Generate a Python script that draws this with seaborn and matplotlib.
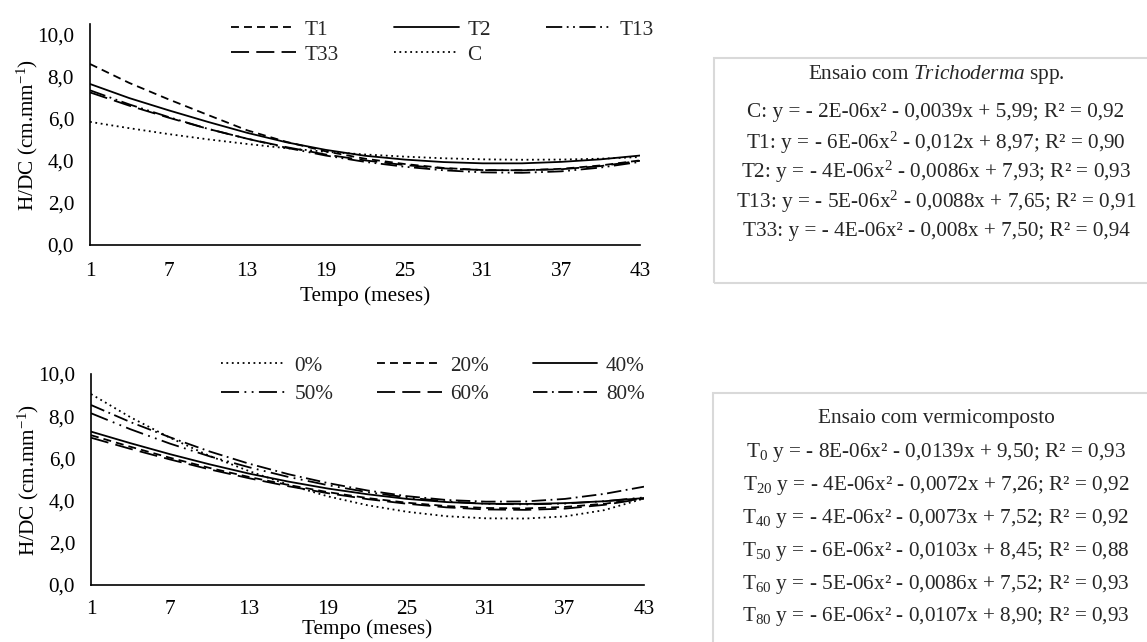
import numpy as np
import pandas as pd
import seaborn as sns
import matplotlib
matplotlib.use("Agg")
import matplotlib.pyplot as plt
from matplotlib.patches import Rectangle

# ---------------- data ----------------
months = [1, 4, 7, 10, 13, 16, 19, 22, 25, 28, 31, 34, 37, 40, 43]
xticks = [1, 7, 13, 19, 25, 31, 37, 43]
ytick_vals = [0, 2, 4, 6, 8, 10]
ytick_labels = ["0,0", "2,0", "4,0", "6,0", "8,0", "10,0"]

# Trichoderma trial
t1 = [8.60, 7.70, 6.92, 6.18, 5.45, 4.90, 4.45, 4.10, 3.85, 3.66, 3.56, 3.55, 3.62, 3.78, 4.02]
t2 = [7.65, 6.98, 6.40, 5.85, 5.33, 4.88, 4.52, 4.24, 4.06, 3.94, 3.88, 3.88, 3.95, 4.07, 4.25]
t13 = [7.35, 6.68, 6.08, 5.52, 5.05, 4.62, 4.25, 3.95, 3.72, 3.55, 3.45, 3.43, 3.50, 3.68, 3.95]
t33 = [7.25, 6.62, 6.05, 5.52, 5.05, 4.65, 4.30, 4.02, 3.80, 3.64, 3.56, 3.55, 3.60, 3.75, 4.00]
c = [5.85, 5.55, 5.27, 5.02, 4.80, 4.60, 4.43, 4.30, 4.20, 4.12, 4.07, 4.05, 4.06, 4.10, 4.18]

# Vermicompost trial
v0 = [9.05, 7.95, 6.98, 6.12, 5.40, 4.75, 4.20, 3.78, 3.47, 3.26, 3.16, 3.15, 3.25, 3.55, 4.10]
v20 = [7.10, 6.55, 6.03, 5.55, 5.12, 4.74, 4.40, 4.12, 3.90, 3.74, 3.65, 3.63, 3.70, 3.85, 4.10]
v40 = [7.27, 6.72, 6.20, 5.72, 5.28, 4.90, 4.57, 4.30, 4.08, 3.93, 3.85, 3.84, 3.88, 3.97, 4.12]
v50 = [8.14, 7.38, 6.70, 6.10, 5.58, 5.12, 4.73, 4.40, 4.15, 3.96, 3.85, 3.82, 3.86, 3.97, 4.15]
v60 = [6.98, 6.45, 5.95, 5.48, 5.06, 4.68, 4.35, 4.07, 3.85, 3.68, 3.58, 3.56, 3.62, 3.80, 4.10]
v80 = [8.53, 7.72, 7.00, 6.33, 5.75, 5.25, 4.83, 4.48, 4.21, 4.03, 3.95, 3.96, 4.08, 4.32, 4.66]

top_names = ["T1", "T2", "T13", "T33", "C"]
top_vals = [t1, t2, t13, t33, c]
bot_names = ["0%", "20%", "40%", "50%", "60%", "80%"]
bot_vals = [v0, v20, v40, v50, v60, v80]

box1_title = "Ensaio com $\\it{Trichoderma}$ spp."
box1_lines = [
    "C: y = - 2E-06x² - 0,0039x + 5,99; R² = 0,92",
    "T1: y = - 6E-06x$^{2}$ - 0,012x + 8,97; R² = 0,90",
    "T2: y = - 4E-06x$^{2}$ - 0,0086x + 7,93; R² = 0,93",
    "T13: y = - 5E-06x$^{2}$ - 0,0088x + 7,65; R² = 0,91",
    "T33: y = - 4E-06x² - 0,008x + 7,50; R² = 0,94",
]
box2_title = "Ensaio com vermicomposto"
box2_lines = [
    "T$_{0}$ y = - 8E-06x² - 0,0139x + 9,50; R² = 0,93",
    "T$_{20}$ y = - 4E-06x² - 0,0072x + 7,26; R² = 0,92",
    "T$_{40}$ y = - 4E-06x² - 0,0073x + 7,52; R² = 0,92",
    "T$_{50}$ y = - 6E-06x² - 0,0103x + 8,45; R² = 0,88",
    "T$_{60}$ y = - 5E-06x² - 0,0086x + 7,52; R² = 0,93",
    "T$_{80}$ y = - 6E-06x² - 0,0107x + 8,90; R² = 0,93",
]

# ---------------- style ----------------
sns.set_theme(style="white")
plt.rcParams["font.family"] = ["Liberation Serif", "DejaVu Serif"]
plt.rcParams["mathtext.fontset"] = "custom"
plt.rcParams["mathtext.rm"] = "Liberation Serif"
plt.rcParams["mathtext.it"] = "Liberation Serif:italic"
plt.rcParams["mathtext.bf"] = "Liberation Serif:bold"

FS = 15.3
LW = 1.3
top_styles = {
    "T1": (0, (4.4, 2.8)),
    "T2": "-",
    "T13": (0, (9, 2.5, 1, 2.5, 1, 2.5)),
    "T33": (0, (10, 4)),
    "C": (0, (1, 2)),
}
bot_styles = {
    "0%": (0, (1, 2)),
    "20%": (0, (4.4, 2.8)),
    "40%": "-",
    "50%": (0, (10, 3, 1, 3, 1, 3)),
    "60%": (0, (10, 4)),
    "80%": (0, (8, 2.5, 1, 2.5)),
}

W, H = 1147, 642
fig = plt.figure(figsize=(W / 100, H / 100), dpi=100)
fig.patch.set_facecolor("white")

ax1 = fig.add_axes([90 / W, 1 - 245 / H, 550 / W, 221 / H])
ax2 = fig.add_axes([91 / W, 1 - 585 / H, 553 / W, 211 / H])


def draw(ax, names, vals, styles, ytop, xpad, xlabelpad):
    for n, v in zip(names, vals):
        df = pd.DataFrame({"m": months, "v": v})
        sns.lineplot(data=df, x="m", y="v", ax=ax, color="black",
                     linewidth=LW, linestyle=styles[n], label=n)
    ax.set_xlim(1, 43)
    ax.set_ylim(0, ytop)
    ax.set_xticks(xticks)
    ax.set_xticklabels([str(t) for t in xticks], fontsize=FS)
    ax.set_yticks(ytick_vals)
    ax.set_yticklabels(ytick_labels, fontsize=FS)
    for s in ["top", "right"]:
        ax.spines[s].set_visible(False)
    for s in ["left", "bottom"]:
        ax.spines[s].set_color("black")
        ax.spines[s].set_linewidth(1.2)
    ax.tick_params(axis="x", direction="inout", length=8, width=1.2,
                   color="black", pad=xpad, labelcolor="black")
    ax.tick_params(axis="y", direction="out", length=5, width=1.2,
                   color="black", pad=6.5, labelcolor="black")
    ax.set_xlabel("Tempo (meses)", fontsize=FS, color="black", labelpad=xlabelpad)
    ax.set_ylabel("H/DC (cm.mm$^{-1}$)", fontsize=FS, color="black", labelpad=-2)
    ax.set_facecolor("white")


draw(ax1, top_names, top_vals, top_styles, 10.5, 8, 4)
draw(ax2, bot_names, bot_vals, bot_styles, 10.0, 7, 0)

# legends
h1, l1 = ax1.get_legend_handles_labels()
d1 = dict(zip(l1, h1))
order1 = ["T1", "T33", "T2", "C", "T13"]
ax1.legend([d1[k] for k in order1], order1, ncol=3, frameon=False,
           loc="upper left", bbox_to_anchor=(231 / W, 1 - 20 / H),
           bbox_transform=fig.transFigure, fontsize=FS, handlelength=3.05,
           handletextpad=0.4, columnspacing=2.6, labelspacing=0.23,
           borderpad=0, borderaxespad=0)

h2, l2 = ax2.get_legend_handles_labels()
d2 = dict(zip(l2, h2))
order2 = ["0%", "50%", "20%", "60%", "40%", "80%"]
ax2.legend([d2[k] for k in order2], order2, ncol=3, frameon=False,
           loc="upper left", bbox_to_anchor=(221 / W, 1 - 356 / H),
           bbox_transform=fig.transFigure, fontsize=FS, handlelength=3.05,
           handletextpad=0.4, columnspacing=2.05, labelspacing=0.4,
           borderpad=0, borderaxespad=0)

# equation boxes
fig.patches.append(Rectangle((714 / W, 1 - 283 / H), 440 / W, 225 / H,
                             transform=fig.transFigure, fill=False,
                             edgecolor="#d9d9d9", linewidth=1.5))
fig.patches.append(Rectangle((713 / W, 1 - 660 / H), 440 / W, 267 / H,
                             transform=fig.transFigure, fill=False,
                             edgecolor="#d9d9d9", linewidth=1.5))

cx = 936 / W
fig.text(cx, 1 - 75 / H, box1_title, ha="center", va="center", fontsize=FS)
for i, t in enumerate(box1_lines):
    fig.text(cx, 1 - (113 + 29.7 * i) / H, t, ha="center", va="center", fontsize=FS)

fig.text(cx, 1 - 418 / H, box2_title, ha="center", va="center", fontsize=FS)
for i, t in enumerate(box2_lines):
    fig.text(cx, 1 - (453 + 32.8 * i) / H, t, ha="center", va="center", fontsize=FS)

fig.savefig("out.png", dpi=100, facecolor="white")
